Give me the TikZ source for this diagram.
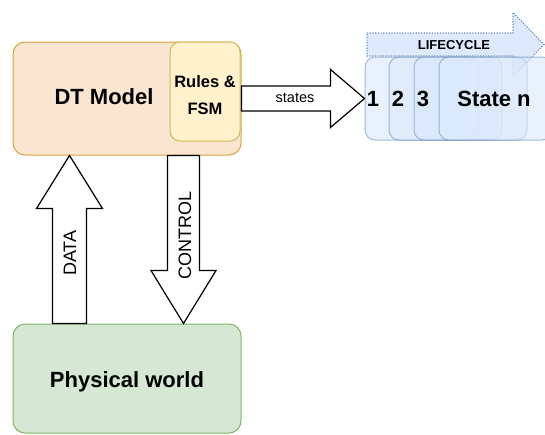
\documentclass[tikz,border=0pt]{standalone}
\usepackage{fontspec}
\setmainfont{Liberation Sans}
\usetikzlibrary{calc}
\definecolor{dtfill}{HTML}{FAE5D0}
\definecolor{dtline}{HTML}{D9A441}
\definecolor{rfill}{HTML}{FFF2CC}
\definecolor{rline}{HTML}{D6B656}
\definecolor{pfill}{HTML}{D5E8D4}
\definecolor{pline}{HTML}{82B366}
\definecolor{cardfill}{HTML}{DAE8FC}
\definecolor{cardline}{HTML}{6C8EBF}
\begin{document}
\begin{tikzpicture}[x=1pt,y=-1pt,
  box/.style={draw, rounded corners=12pt, line width=1pt, inner sep=0pt},
  blockarrow/.style={draw=black, fill=white, line width=1.2pt, line join=miter},
  card/.style={draw=cardline, fill=cardfill, fill opacity=0.6, draw opacity=0.6,
    rounded corners=10pt, minimum width=113pt, minimum height=83pt, inner sep=0pt, line width=1pt},
  lifearrow/.style={draw=cardline, fill=cardfill, fill opacity=0.9, line width=1.2pt,
    dash pattern=on 1.2pt off 1.5pt},
  big/.style={font=\bfseries\fontsize{22}{26}\selectfont, inner sep=0pt},
  mid/.style={font=\bfseries\fontsize{16.5}{27}\selectfont, inner sep=0pt, align=center},
  vert/.style={font=\fontsize{18}{20}\selectfont, inner sep=0pt, rotate=90},
]
\useasboundingbox (0,0) rectangle (545,434);
% main boxes
\node[box, draw=dtline, fill=dtfill, minimum width=228pt, minimum height=113pt] (dt) at (127,98.5) {};
\node[box, draw=rline, fill=rfill, rounded corners=10pt, minimum width=70pt, minimum height=99pt] (rules) at (205,91.5) {};
\node[box, draw=pline, fill=pfill, minimum width=228pt, minimum height=109pt] (phys) at (127,378.5) {};
% lifecycle arrow
\coordinate (lcS) at (367,44.5);
\coordinate (lcT) at (544,44.5);
\draw[lifearrow] ($(lcS)+(0,-11.5)$) -- ($(lcT)+(-31,-11.5)$) -- ($(lcT)+(-31,-32)$) -- (lcT)
  -- ($(lcT)+(-31,32)$) -- ($(lcT)+(-31,11.5)$) -- ($(lcS)+(0,11.5)$) -- cycle;
% cards
\node[card] (c1) at (421.5,98.5) {};
\node[card] (c2) at (445.5,98.5) {};
\node[card] (c3) at (470.5,98.5) {};
\node[card] (cn) at (495.5,98.5) {};
% states arrow
\draw[blockarrow] ($(dt.east)+(0,-12.5)$) -- ++(89,0) -- ++(0,-16.5) -- (c1.west)
  -- ($(dt.east)+(89,29)$) -- ++(0,-16.5) -- ($(dt.east)+(0,12.5)$) -- cycle;
% DATA arrow
\coordinate (dataS) at ($(phys.north west)+(57,0)$);
\coordinate (dataT) at ($(dt.south west)+(57,0)$);
\draw[blockarrow] ($(dataS)+(-17,0)$) -- ($(dataT)+(-17,53)$) -- ($(dataT)+(-33,53)$) -- (dataT)
  -- ($(dataT)+(33,53)$) -- ($(dataT)+(17,53)$) -- ($(dataS)+(17,0)$) -- cycle;
% CONTROL arrow
\coordinate (ctrlS) at ($(dt.south west)+(171,0)$);
\coordinate (ctrlT) at ($(phys.north west)+(171,0)$);
\draw[blockarrow] ($(ctrlS)+(-16,0)$) -- ($(ctrlT)+(-16,-53)$) -- ($(ctrlT)+(-32.5,-53)$) -- (ctrlT)
  -- ($(ctrlT)+(32.5,-53)$) -- ($(ctrlT)+(16,-53)$) -- ($(ctrlS)+(16,0)$) -- cycle;
% texts
\node[big] (dtlabel) at (104,97) {DT Model};
\node[mid] (ruleslabel) at (205,95) {Rules \&\\FSM};
\node[big] (physlabel) at (127,382) {Physical world};
\node[font=\fontsize{14.5}{16}\selectfont, inner sep=0pt] (stateslabel) at (295,98) {states};
\node[vert] (datalabel) at (70,253) {DATA};
\node[vert] (ctrllabel) at (185,235) {CONTROL};
\node[font=\bfseries\fontsize{13}{15}\selectfont, inner sep=0pt] (lclabel) at (454,45) {LIFECYCLE};
\node[big] (n1) at (373,99) {1};
\node[big] (n2) at (398,99) {2};
\node[big] (n3) at (423,99) {3};
\node[big] (nn) at (494,99) {State n};
\end{tikzpicture}
\end{document}
